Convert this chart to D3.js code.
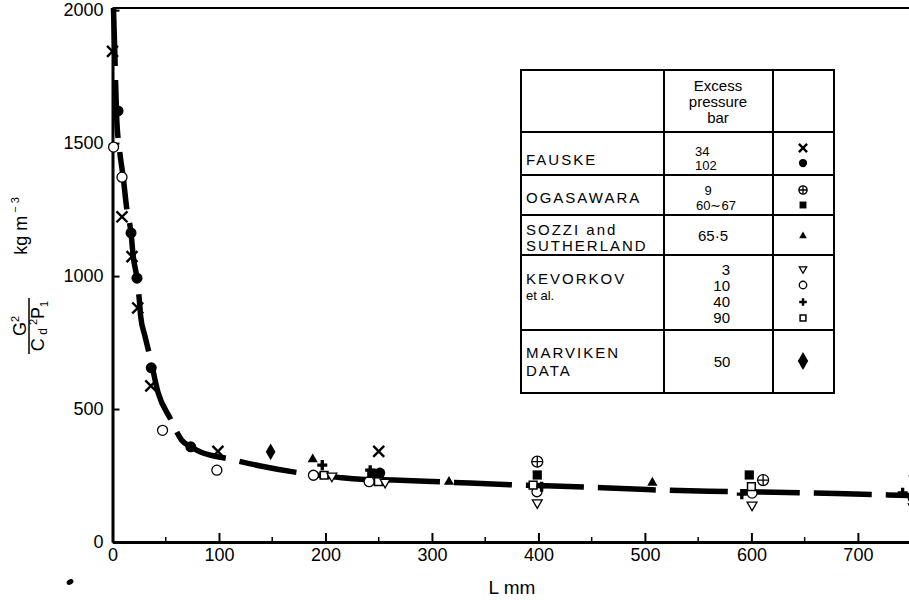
<!DOCTYPE html>
<html>
<head>
<meta charset="utf-8">
<script src="https://cdn.jsdelivr.net/npm/d3@7"></script>
<style>
  body { margin: 0; background: #fff; }
  svg { display: block; }
  text { font-family: "Liberation Sans", Arial, sans-serif; fill: #000; }
</style>
</head>
<body>
<script>
var svgWidth = 909;
var svgHeight = 600;

var margin = {
    top: 8,
    right: 0,
    bottom: 58,
    left: 112.5
};

var chartWidth = svgWidth - margin.left - margin.right;
var chartHeight = svgHeight - margin.top - margin.bottom;

// axis ticks
var xTicks = [0, 100, 200, 300, 400, 500, 600, 700];
var xMinorTicks = [50, 150, 250, 350, 450, 550, 650];
var yTicks = [0, 500, 1000, 1500, 2000];

// dashed fit curve (L mm, kg m-3)
var curveL = [0.9, 1.9, 3.9, 6.6, 10.1, 13.3, 17.4, 19.5, 23, 25.2, 26.5, 30.5, 35.2, 43, 54, 65, 73.5, 82.2, 110, 139, 179, 212, 233, 264, 309, 384, 414, 502, 560, 608, 680, 748];
var curveV = [2008, 1876, 1598, 1474, 1370, 1256, 1162, 1073, 992, 910, 847, 774, 697, 559, 466, 383, 358, 339, 312, 286, 258, 243, 236, 233, 226, 214, 211, 197, 191, 188, 182, 175];

// data points [L mm, value]
var fauske34 = [[0, 1845], [8.9, 1223], [18.3, 1073], [23.7, 880], [36, 587], [99, 341], [250, 341]];
var fauske102 = [[5.2, 1621], [17.4, 1162], [23, 992], [36.4, 655], [73.5, 358], [251, 259]];
var ogasawara9 = [[398.9, 302], [611, 233]];
var ogasawara60 = [[243.5, 258], [398.9, 252], [598, 252]];
var sozzi = [[188, 311], [316, 226], [507, 223], [752, 258]];
var kevorkov3 = [[206, 248], [256, 225], [398.9, 148], [600.6, 139], [752, 133]];
var kevorkov10 = [[1, 1485], [8.9, 1372], [47, 420], [98, 270], [188.7, 251], [241, 227], [398.6, 189], [600.6, 184], [752, 166]];
var kevorkov40 = [[197, 289], [242, 270], [403, 208], [591, 180], [742, 185]];
var kevorkov90 = [[198.7, 251], [249.7, 227], [395, 214], [600, 208]];
var marviken = [[148.5, 339]];

// legend table contents
var legendNames = [["FAUSKE"], ["OGASAWARA"], ["SOZZI and", "SUTHERLAND"], ["KEVORKOV", "et al."], ["MARVIKEN", "DATA"]];
var legendPressures = [["34", "102"], ["9", "60\u223C67"], ["65\u00B75"], ["3", "10", "40", "90"], ["50"]];
var legendSymbols = [["times", "dot"], ["oplus", "square"], ["triangle"], ["tridown", "circle", "plus", "opensquare"], ["diamond"]];

var svg = d3.select("body")
    .append("svg")
    .attr("width", svgWidth)
    .attr("height", svgHeight);

var chartGroup = svg.append("g")
    .attr("transform", `translate(${margin.left}, ${margin.top})`);

var xScale = d3.scaleLinear()
    .domain([0, 748])
    .range([0, chartWidth]);

var yScale = d3.scaleLinear()
    .domain([0, 2008])
    .range([chartHeight, 0]);

// frame on top
chartGroup.append("line")
    .attr("x1", 0).attr("x2", chartWidth)
    .attr("y1", 0).attr("y2", 0)
    .attr("stroke", "#000")
    .attr("stroke-width", 2);

var leftAxis = d3.axisLeft(yScale)
    .tickValues(yTicks)
    .tickFormat(d3.format("d"))
    .tickSizeInner(-7)
    .tickSizeOuter(0)
    .tickPadding(9);

var bottomAxis = d3.axisBottom(xScale)
    .tickValues(xTicks)
    .tickFormat(d3.format("d"))
    .tickSizeInner(-9)
    .tickSizeOuter(0)
    .tickPadding(6);

var yAxisG = chartGroup.append("g")
    .call(leftAxis);

var xAxisG = chartGroup.append("g")
    .attr("transform", "translate(0, " + chartHeight + ")")
    .call(bottomAxis);

xAxisG.selectAll(".minor")
    .data(xMinorTicks)
    .enter()
    .append("line")
    .attr("class", "minor")
    .attr("x1", d => xScale(d)).attr("x2", d => xScale(d))
    .attr("y1", 0).attr("y2", -5)
    .attr("stroke", "#000")
    .attr("stroke-width", 1.5);

[yAxisG, xAxisG].forEach(function(g) {
    g.select(".domain").attr("stroke", "#000").attr("stroke-width", 3);
    g.selectAll(".tick line").attr("stroke", "#000").attr("stroke-width", 2);
    g.selectAll(".tick text")
        .attr("fill", "#000")
        .style("font-family", '"Liberation Sans", Arial, sans-serif')
        .style("font-size", "18px");
});

// fit curve
var curveData = curveL.map((l, i) => [l, curveV[i]]);
var line = d3.line()
    .x(d => xScale(d[0]))
    .y(d => yScale(d[1]))
    .curve(d3.curveMonotoneX);

chartGroup.append("path")
    .datum(curveData)
    .attr("d", line)
    .attr("fill", "none")
    .attr("stroke", "#000")
    .attr("stroke-width", 5.5)
    .attr("stroke-dasharray", "58,14");

// markers
function drawMarker(parent, type, cx, cy, k) {
    k = k || 1;
    var g = parent.append("g").attr("transform", `translate(${cx}, ${cy})`);
    if (type == "times") {
        g.append("path").attr("d", d3.symbol(d3.symbolTimes, 80 * k * k)())
            .attr("fill", "none").attr("stroke", "#000").attr("stroke-width", 2.4);
    } else if (type == "dot") {
        g.append("circle").attr("r", 5.5 * k).attr("fill", "#000");
    } else if (type == "circle") {
        g.append("circle").attr("r", 5 * k).attr("fill", "#fff")
            .attr("stroke", "#000").attr("stroke-width", 1.3);
    } else if (type == "oplus") {
        var r = 5.5 * k;
        g.append("circle").attr("r", r).attr("fill", "#fff")
            .attr("stroke", "#000").attr("stroke-width", 1.3);
        g.append("path").attr("d", `M${-r},0H${r}M0,${-r}V${r}`)
            .attr("stroke", "#000").attr("stroke-width", 1.3);
    } else if (type == "square") {
        g.append("path").attr("d", d3.symbol(d3.symbolSquare, 85 * k * k)()).attr("fill", "#000");
    } else if (type == "opensquare") {
        g.append("path").attr("d", d3.symbol(d3.symbolSquare, 60 * k * k)())
            .attr("fill", "#fff").attr("stroke", "#000").attr("stroke-width", 1.5);
    } else if (type == "triangle") {
        g.append("path").attr("d", d3.symbol(d3.symbolTriangle, 45 * k * k)()).attr("fill", "#000");
    } else if (type == "tridown") {
        g.append("path").attr("d", d3.symbol(d3.symbolTriangle, 42 * k * k)())
            .attr("transform", "rotate(180)")
            .attr("fill", "#fff").attr("stroke", "#000").attr("stroke-width", 1.3);
    } else if (type == "plus") {
        g.append("path").attr("d", d3.symbol(d3.symbolCross, 56 * k * k)()).attr("fill", "#000");
    } else if (type == "diamond") {
        g.append("path").attr("d", d3.symbol(d3.symbolDiamond, 80 * k * k)()).attr("fill", "#000");
    }
}

var pointSets = [
    [kevorkov10, "circle"],
    [kevorkov90, "opensquare"],
    [kevorkov3, "tridown"],
    [ogasawara9, "oplus"],
    [ogasawara60, "square"],
    [kevorkov40, "plus"],
    [sozzi, "triangle"],
    [fauske34, "times"],
    [fauske102, "dot"],
    [marviken, "diamond"]
];

pointSets.forEach(function(set) {
    set[0].forEach(function(p) {
        drawMarker(chartGroup, set[1], xScale(p[0]), yScale(p[1]), 1);
    });
});

// axis titles
svg.append("text")
    .attr("x", 512).attr("y", 594)
    .attr("text-anchor", "middle")
    .style("font-size", "19px")
    .text("L mm");

var kgLabel = svg.append("text")
    .attr("transform", "translate(27, 226) rotate(-90)")
    .attr("text-anchor", "middle")
    .style("font-size", "18px");
kgLabel.append("tspan").text("kg m");
kgLabel.append("tspan").attr("dx", 3).attr("dy", -8).style("font-size", "11px").text("\u2212 3");

var frac = svg.append("g").attr("transform", "translate(29, 326) rotate(-90)");
var num = frac.append("text").attr("x", 0).attr("y", -3).attr("text-anchor", "middle").style("font-size", "18px");
num.append("tspan").text("G");
num.append("tspan").attr("dy", -7).style("font-size", "11px").text("2");
frac.append("line")
    .attr("x1", -28).attr("x2", 28).attr("y1", 0).attr("y2", 0)
    .attr("stroke", "#000").attr("stroke-width", 1.5);
var den = frac.append("text").attr("x", 0).attr("y", 15).attr("text-anchor", "middle").style("font-size", "18px");
den.append("tspan").text("C");
den.append("tspan").attr("dy", 3).style("font-size", "12px").text(" d");
den.append("tspan").attr("dy", -10).style("font-size", "11px").text(" 2");
den.append("tspan").attr("dy", 7).text("P");
den.append("tspan").attr("dy", 4).style("font-size", "11px").text("1");

// stray ink dot of the scan
svg.append("ellipse")
    .attr("cx", 70).attr("cy", 582)
    .attr("rx", 3.6).attr("ry", 2.6)
    .attr("transform", "rotate(-30, 70, 582)")
    .attr("fill", "#000");

// legend table
var table = svg.append("g");
var colX = [521, 664, 773, 834];
var rowY = [70, 132, 175, 215, 255, 330, 393];

table.append("rect")
    .attr("x", colX[0]).attr("y", rowY[0])
    .attr("width", colX[3] - colX[0]).attr("height", rowY[6] - rowY[0])
    .attr("fill", "#fff").attr("stroke", "#000").attr("stroke-width", 2);
[colX[1], colX[2]].forEach(function(x) {
    table.append("line").attr("x1", x).attr("x2", x).attr("y1", rowY[0]).attr("y2", rowY[6])
        .attr("stroke", "#000").attr("stroke-width", 2);
});
rowY.slice(1, 6).forEach(function(y) {
    table.append("line").attr("x1", colX[0]).attr("x2", colX[3]).attr("y1", y).attr("y2", y)
        .attr("stroke", "#000").attr("stroke-width", 2);
});

["Excess", "pressure", "bar"].forEach(function(t, i) {
    table.append("text").attr("x", 718).attr("y", [91, 107, 123][i])
        .attr("text-anchor", "middle").style("font-size", "15px").text(t);
});

var nameY = [[165], [203], [235, 251], [284, 300], [358, 376]];
var pressY = [[156, 170], [195, 210], [241], [275, 291, 307, 323], [367]];
var pressX = [[695, 695], [708, 716], [713], [730, 730, 730, 730], [722]];
var pressAnchor = ["start", "middle", "middle", "end", "middle"];
var symY = [[148, 163], [190, 205], [236], [269, 285, 302, 318], [361]];

legendNames.forEach(function(names, i) {
    names.forEach(function(n, j) {
        var small = n == "et al.";
        table.append("text").attr("x", 526).attr("y", nameY[i][j])
            .style("font-size", small ? "13px" : "15px")
            .style("letter-spacing", small ? "0px" : "2px")
            .text(n);
    });
    legendPressures[i].forEach(function(p, j) {
        table.append("text").attr("x", pressX[i][j]).attr("y", pressY[i][j])
            .attr("text-anchor", pressAnchor[i])
            .style("font-size", (i < 2 ? 13 : 15) + "px")
            .text(p);
    });
    legendSymbols[i].forEach(function(s, j) {
        drawMarker(table, s, 803, symY[i][j], s == "diamond" ? 1.08 : 0.75);
    });
});
</script>
</body>
</html>
